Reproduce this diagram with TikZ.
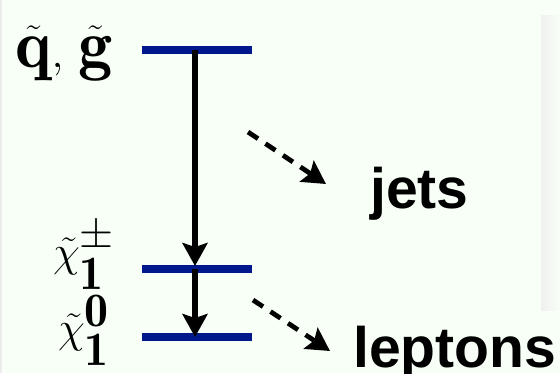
\documentclass[tikz,border=0pt]{standalone}
\usepackage{fontspec}
\usepackage{amsmath}
\newfontfamily\labelfont{Liberation Sans}
\usetikzlibrary{arrows.meta, positioning}
\definecolor{levelblue}{RGB}{0,24,140}
\definecolor{bgmint}{RGB}{247,255,247}

\begin{document}
\begin{tikzpicture}[
  x=0.02cm, y=-0.02cm,
  >=Stealth,  % Arrow tip
  % Define level and label styles
  levelbar/.style={
    draw=levelblue,
    line width=4.3pt
  },
  particle/.style={
    inner sep=0pt,
    font=\fontsize{39}{44}\selectfont
  },
  product/.style={
    inner sep=0pt,
    font=\labelfont\bfseries\fontsize{32.5}{40}\selectfont
  },
  % Arrows style
  decay/.style={
    -{Stealth[length=0.46cm, width=0.5cm, inset=0.08cm]},
    line width=3pt
  },
  cascade/.style={
    -{Stealth[length=0.46cm, width=0.5cm, inset=0.08cm]},
    line width=2.7pt,
    dash pattern=on 0.24cm off 0.18cm
  }
]

% -----------------------------------------------
% BACKGROUND
% -----------------------------------------------
\fill[bgmint] (0,0) rectangle (560,373);
\useasboundingbox (0,0) rectangle (560,373);
\shade[left color=gray!12, right color=bgmint] (541,15) rectangle (560,310);
\fill[gray!15] (0,0) rectangle (1.5,373);

% -----------------------------------------------
% MASS LEVELS
% -----------------------------------------------
\coordinate (sqL) at (142,50);  \coordinate (sqR) at (252,50);
\coordinate (chL) at (142,269); \coordinate (chR) at (252,269);
\coordinate (neL) at (142,337); \coordinate (neR) at (252,337);
\coordinate (sqM) at (195,50);
\coordinate (chM) at (195,269);
\coordinate (neM) at (195,337);

\draw[levelbar] (sqL) -- (sqR);
\draw[levelbar] (chL) -- (chR);
\draw[levelbar] (neL) -- (neR);

% -----------------------------------------------
% PARTICLE LABELS
% -----------------------------------------------
\node[particle, anchor=base] (squark) at (64,67) {$\tilde{\mathbf{q}},\,\tilde{\mathbf{g}}$};
\node[particle] (chargino) at (84,256) {$\tilde{\chi}^{\pm}_{\mathbf{1}}$};
\node[particle] (neutralino) at (84,330) {$\tilde{\chi}^{\mathbf{0}}_{\mathbf{1}}$};

% -----------------------------------------------
% DECAY PRODUCTS
% -----------------------------------------------
\node[product, anchor=base west] (jets) at (370,208) {jets};
\node[product, anchor=base west] (leptons) at (353,367) {leptons};

\coordinate (jetsA) at (248,132); \coordinate (jetsB) at (326,184);
\coordinate (lepA) at (253,300);  \coordinate (lepB) at (330,351);

% -----------------------------------------------
% ARROWS
% -----------------------------------------------
\draw[decay, shorten >=0.06cm] (sqM) -- (chM);
\draw[decay] (chM) -- (neM);

\draw[cascade] (jetsA) -- (jetsB);
\draw[cascade] (lepA) -- (lepB);

\end{tikzpicture}
\end{document}
